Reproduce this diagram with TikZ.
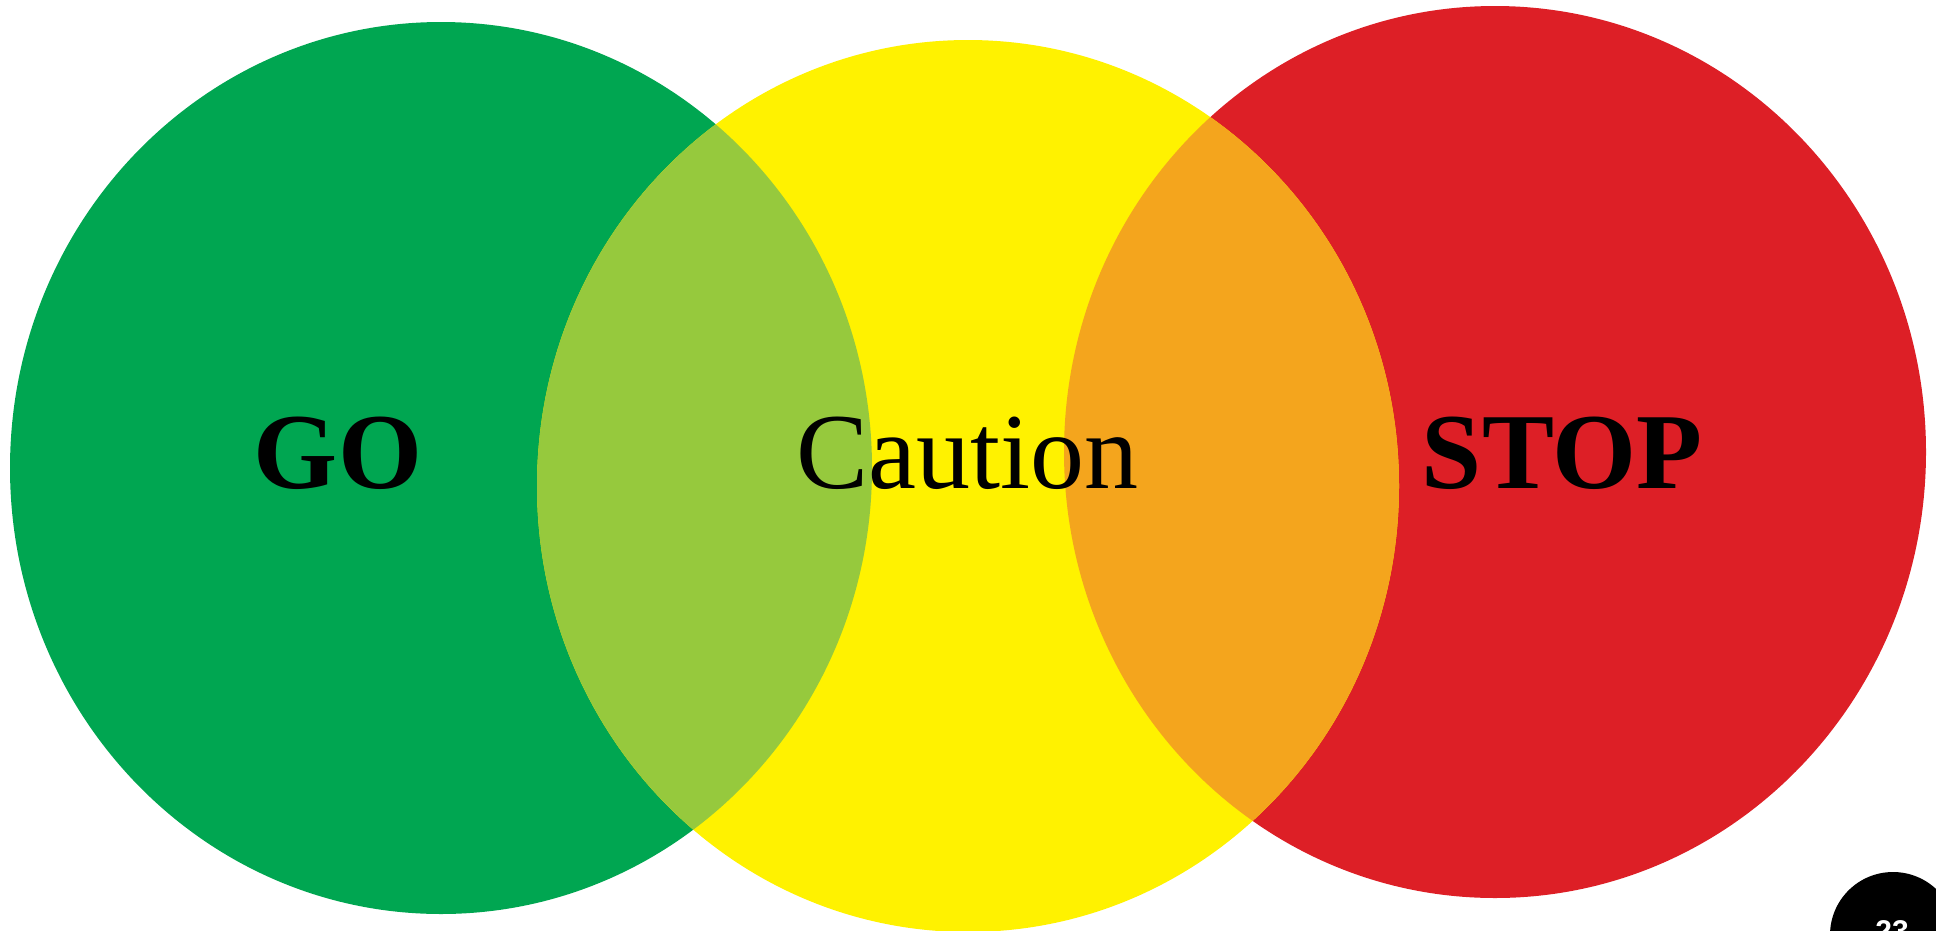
\documentclass[tikz,border=0pt]{standalone}
\usepackage{fontspec}
\setmainfont{Liberation Serif}
\setsansfont{Liberation Sans}
\definecolor{cgreen}{RGB}{0,166,81}
\definecolor{cyellow}{RGB}{255,242,0}
\definecolor{cred}{RGB}{221,31,38}
\definecolor{clime}{RGB}{150,201,61}
\definecolor{corange}{RGB}{244,165,29}
\begin{document}
\begin{tikzpicture}[x=1pt,y=-1pt,
  lbl/.style={anchor=base,inner sep=0pt,font=\fontsize{108}{120}\selectfont}]
\useasboundingbox (0,0) rectangle (1936,930);
\clip (0,0) rectangle (1936,930);
% circles
\fill[cgreen] (441,468) ellipse [x radius=431, y radius=446];
\fill[cred] (1495,452) ellipse [x radius=431, y radius=446];
\fill[cyellow] (968,486) ellipse [x radius=431, y radius=446];
% lenses
\begin{scope}
  \clip (441,468) ellipse [x radius=431, y radius=446];
  \fill[clime] (968,486) ellipse [x radius=431, y radius=446];
\end{scope}
\begin{scope}
  \clip (1495,452) ellipse [x radius=431, y radius=446];
  \fill[corange] (968,486) ellipse [x radius=431, y radius=446];
\end{scope}
% labels
\node[lbl,font=\fontsize{108}{120}\selectfont\bfseries] (go) at (338,488) {GO};
\node[lbl] (caution) at (967,488) {Caution};
\node[lbl,font=\fontsize{108}{120}\selectfont\bfseries] (stop) at (1562,488) {STOP};
% page badge
\fill[black] (1893,935) circle (63);
\node[anchor=north,inner sep=0pt,text=white,font=\sffamily\bfseries\fontsize{30}{32}\selectfont] (badge) at (1892,920) {23};
\end{tikzpicture}
\end{document}
